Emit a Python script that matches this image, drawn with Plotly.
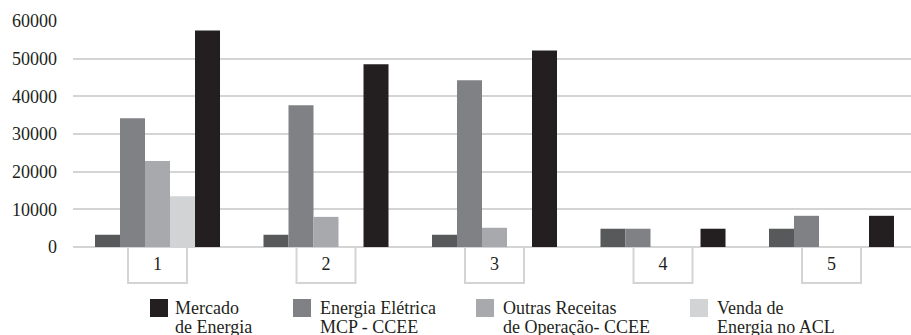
import plotly.graph_objects as go

# Categories and series values
categorias = ["1", "2", "3", "4", "5"]
serie_base = [3250, 3250, 3250, 4850, 4850]
energia_eletrica_mcp = [34200, 37650, 44250, 4850, 8280]
outras_receitas = [22800, 8000, 5100, 0, 0]
venda_acl = [13500, 0, 0, 0, 0]
mercado_energia = [57500, 48500, 52200, 4850, 8280]
y_ticks = [0, 10000, 20000, 30000, 40000, 50000, 60000]

# Legend entries (two text lines, colour) shown under the chart
legenda = [
    (("Mercado", "de Energia"), "#231f20"),
    (("Energia Elétrica", "MCP - CCEE"), "#808184"),
    (("Outras Receitas", "de Operação- CCEE"), "#a7a9ac"),
    (("Venda de", "Energia no ACL"), "#d1d3d4"),
]

W, H = 911, 335
ML, MR, MT, MB = 73, 0, 21, 88
PW, PH = W - ML - MR, H - MT - MB
FONT = "Liberation Serif"
TXT = "#231f20"
CAT_STEP = 168.5     # pixels per category
CAT0_PX = 157.5      # pixel centre of the first category


def px_x(px):
    return (px - ML) / PW


def px_y(py):
    return (H - MB - py) / PH


fig = go.Figure()
series = [
    ("", serie_base, "#58595b"),
    ("Energia Elétrica MCP - CCEE", energia_eletrica_mcp, "#808184"),
    ("Outras Receitas de Operação- CCEE", outras_receitas, "#a7a9ac"),
    ("Venda de Energia no ACL", venda_acl, "#d1d3d4"),
    ("Mercado de Energia", mercado_energia, "#231f20"),
]
for nome, vals, cor in series:
    fig.add_trace(go.Bar(
        x=list(range(len(categorias))), y=vals, name=nome,
        marker=dict(color=cor, line=dict(width=0)),
        showlegend=False,
    ))

shapes = []
# white label boxes hanging under each category
for i in range(len(categorias)):
    shapes.append(dict(
        type="rect", xref="x", yref="paper",
        x0=i - 0.175, x1=i + 0.175, y0=-36 / PH, y1=0,
        line=dict(color="#d4d4d4", width=2), fillcolor="white", layer="below",
    ))

annotations = []
leg_sq_x = [150, 293, 476, 690]
leg_tx_x = [173, 318, 501, 715]
for (linhas, cor), sx, tx in zip(legenda, leg_sq_x, leg_tx_x):
    shapes.append(dict(
        type="rect", xref="paper", yref="paper",
        x0=px_x(sx), x1=px_x(sx + 18), y0=px_y(317), y1=px_y(299),
        line=dict(width=0), fillcolor=cor,
    ))
    for k, linha in enumerate(linhas):
        annotations.append(dict(
            xref="paper", yref="paper", x=px_x(tx), y=px_y(296 + 19 * k),
            xanchor="left", yanchor="top", align="left", showarrow=False,
            text=linha, font=dict(family=FONT, size=18, color=TXT),
        ))

fig.update_layout(
    width=W, height=H,
    margin=dict(l=ML, r=MR, t=MT, b=MB, pad=0),
    paper_bgcolor="white", plot_bgcolor="white",
    barmode="group", bargap=0.258, bargroupgap=0,
    font=dict(family=FONT, size=18, color=TXT),
    shapes=shapes, annotations=annotations,
    showlegend=False,
)
x_lo = (ML - CAT0_PX) / CAT_STEP
x_hi = (W - CAT0_PX) / CAT_STEP
fig.update_xaxes(
    range=[x_lo, x_hi],
    tickvals=list(range(len(categorias))), ticktext=categorias,
    showgrid=False, zeroline=False, showline=False, ticks="",
    ticklabelstandoff=4, tickfont=dict(family=FONT, size=18, color=TXT),
)
fig.update_yaxes(
    range=[0, 60000], tickvals=y_ticks, tickformat="d",
    showgrid=True, gridcolor="#d4d4d4", gridwidth=2,
    zeroline=True, zerolinecolor="#d4d4d4", zerolinewidth=2,
    showline=False, ticks="", ticklabelstandoff=15,
    tickfont=dict(family=FONT, size=18, color=TXT),
)

fig.write_html("out.html")
